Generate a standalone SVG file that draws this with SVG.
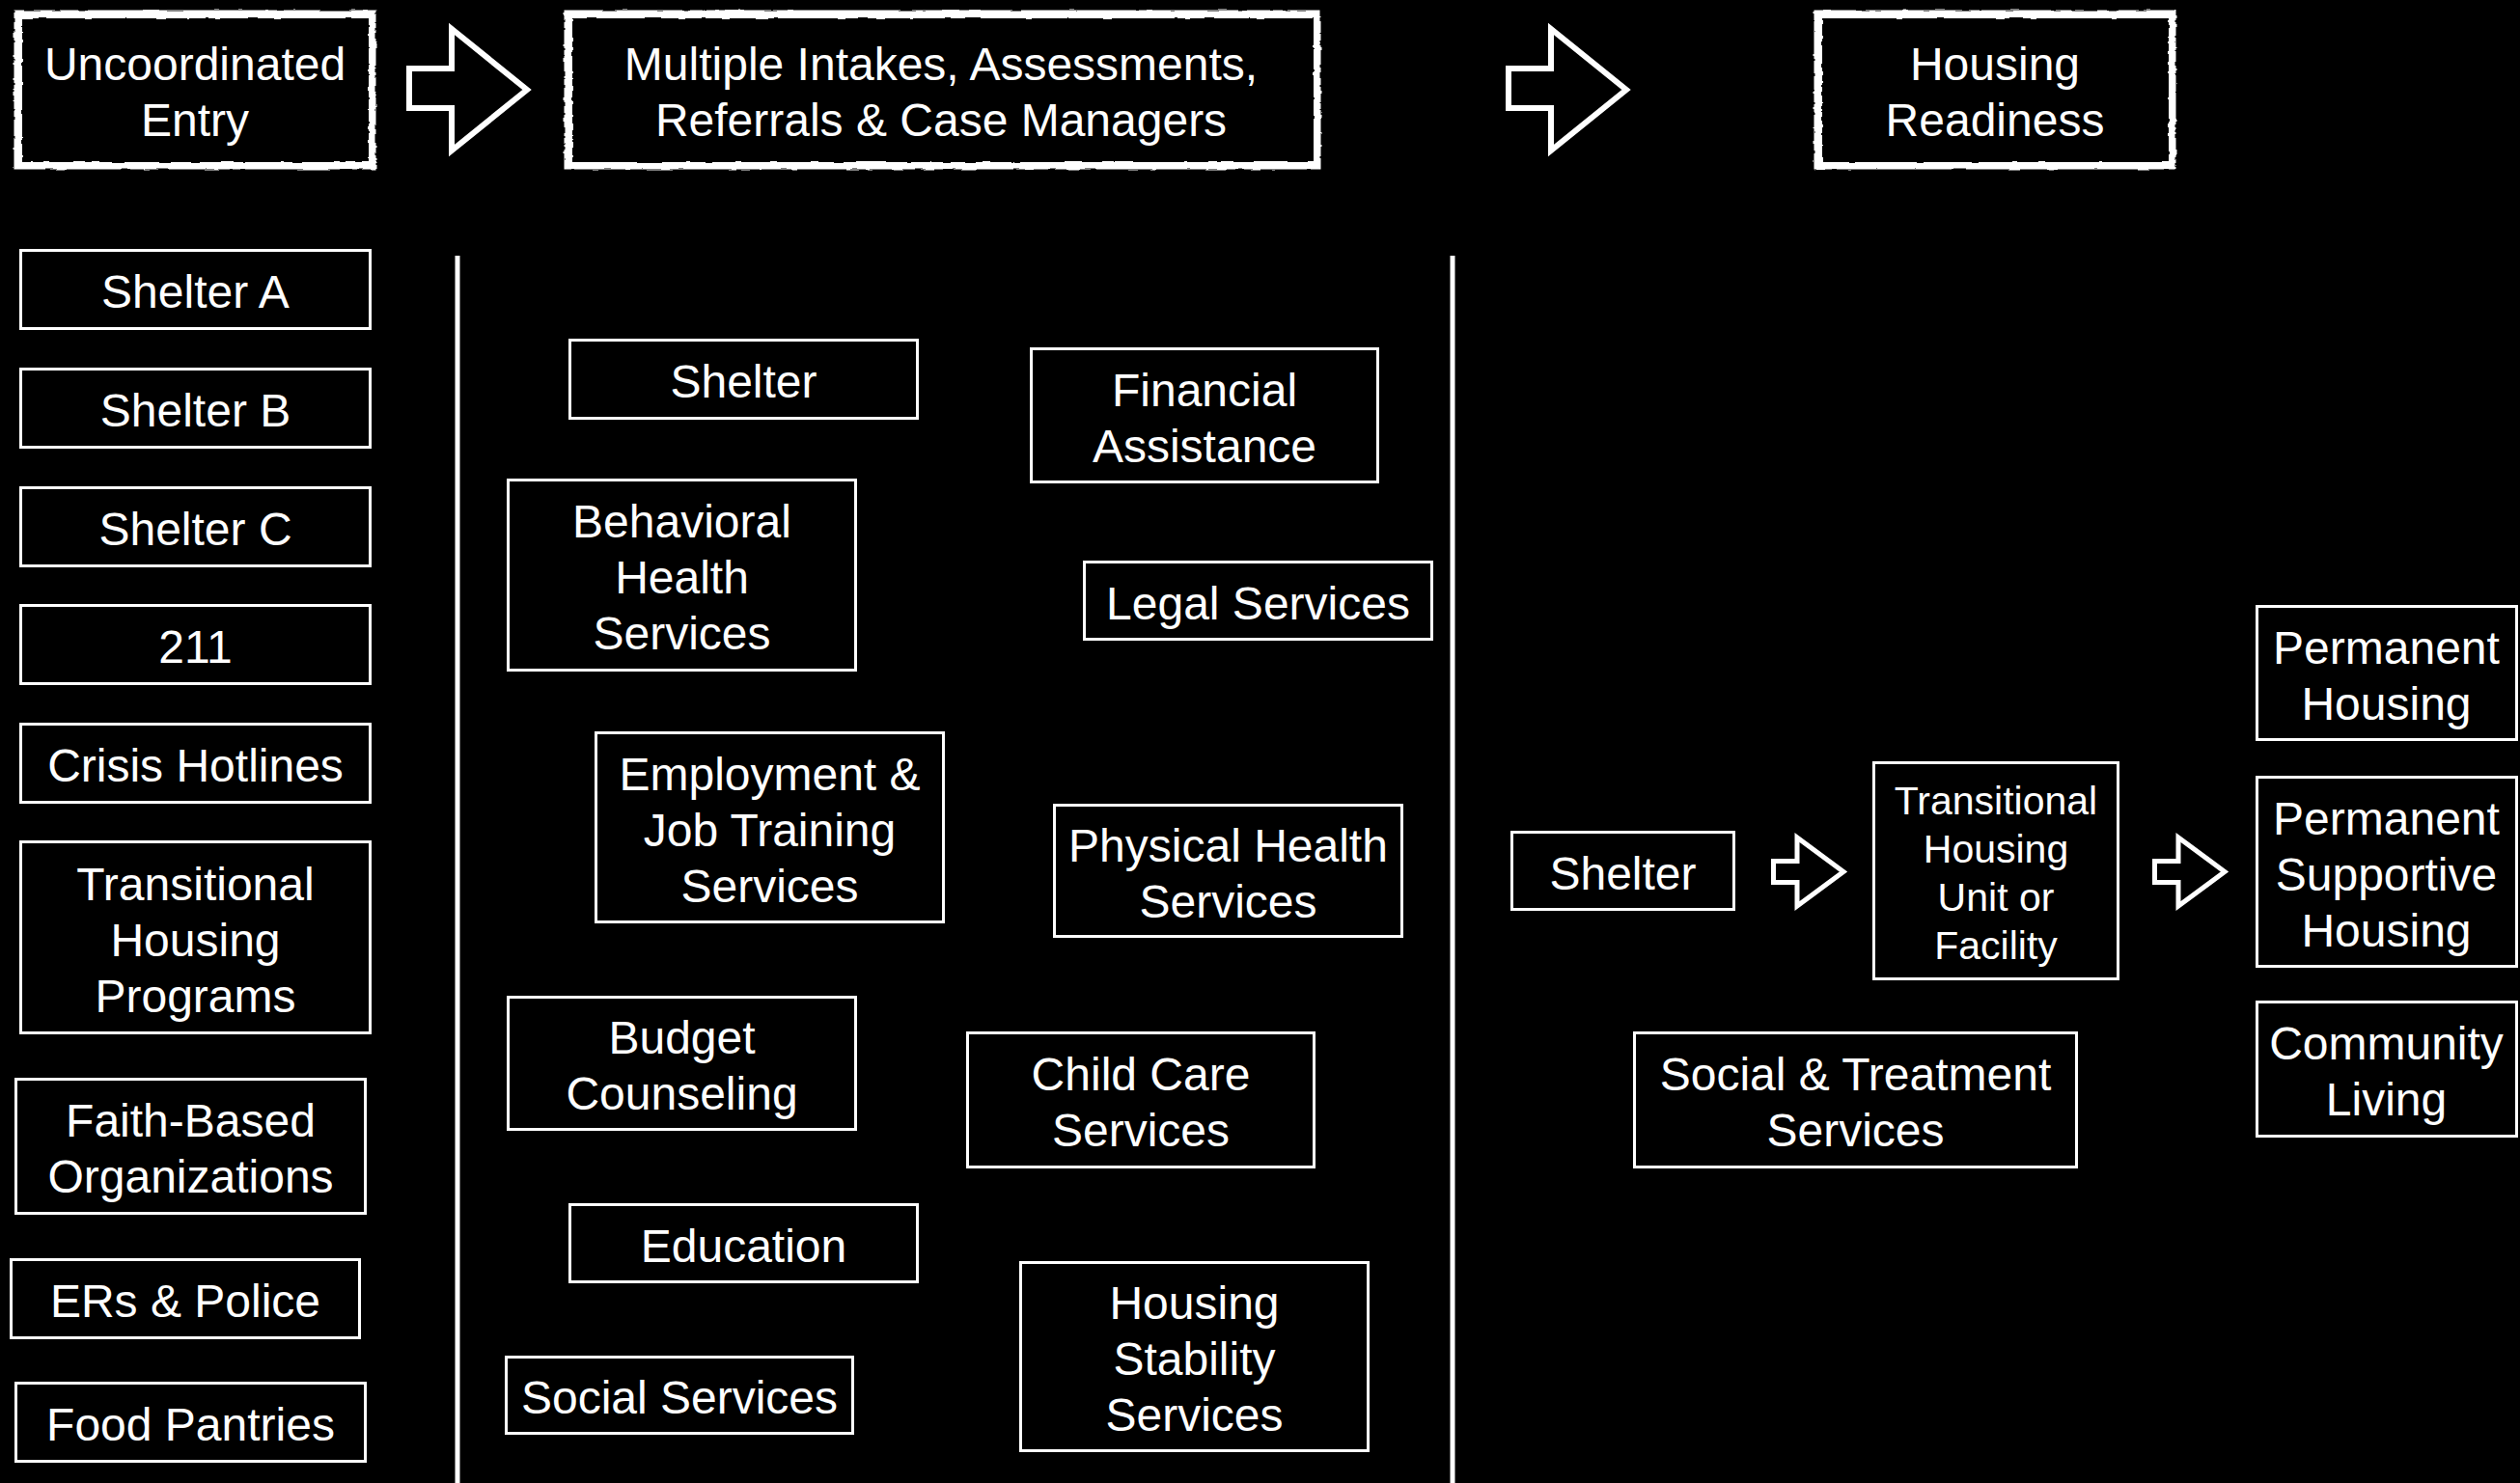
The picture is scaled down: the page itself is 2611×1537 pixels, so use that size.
<svg xmlns="http://www.w3.org/2000/svg" width="2611" height="1537" viewBox="0 0 2611 1537">
<defs>
<style>
.bg{fill:#000}
.box{fill:#000;stroke:#fff;stroke-width:3}
.t{fill:#fff;font-family:"Liberation Sans",Arial,sans-serif;font-size:48px;text-anchor:middle}
.ts{font-size:41px}
.arr{fill:none;stroke:#fff;stroke-width:6;stroke-linejoin:miter}
.arrs{stroke-width:5}
.div{stroke:#fff;stroke-width:5}
.rough{fill:none;stroke:#fff;stroke-width:7}
.rough2{fill:none;stroke:#fff;stroke-width:2}
</style>
<filter id="sketch" x="-5%" y="-15%" width="110%" height="130%">
<feTurbulence type="fractalNoise" baseFrequency="0.05 0.2" numOctaves="2" seed="4" result="n"/>
<feDisplacementMap in="SourceGraphic" in2="n" scale="3.5" xChannelSelector="R" yChannelSelector="G"/>
</filter>
</defs>
<rect class="bg" x="0" y="0" width="2611" height="1537"/>

<g id="headers">
<g id="h-uncoordinated">
<rect class="rough" x="18" y="14" width="368" height="158" filter="url(#sketch)"/>
<rect class="rough2" x="22" y="18" width="361" height="151" filter="url(#sketch)"/>
<text class="t" x="202" y="83">Uncoordinated</text>
<text class="t" x="202" y="141">Entry</text>
</g>
<g id="h-multiple">
<rect class="rough" x="588" y="14" width="777" height="158" filter="url(#sketch)"/>
<rect class="rough2" x="592" y="18" width="770" height="151" filter="url(#sketch)"/>
<text class="t" x="975" y="83">Multiple Intakes, Assessments,</text>
<text class="t" x="975" y="141">Referrals &amp; Case Managers</text>
</g>
<g id="h-readiness">
<rect class="rough" x="1883" y="14" width="368" height="158" filter="url(#sketch)"/>
<rect class="rough2" x="1887" y="18" width="361" height="151" filter="url(#sketch)"/>
<text class="t" x="2067" y="83">Housing</text>
<text class="t" x="2067" y="141">Readiness</text>
</g>
</g>

<g id="connectors">
<path class="arr" d="M424,71 H468 V30 L546,93 L468,156 V112 H424 Z"/>
<path class="arr" d="M1563,71 H1607 V30 L1685,93 L1607,156 V112 H1563 Z"/>
<path class="arr arrs" d="M1837.5,892.5 H1862 V868 L1910,903.5 L1862,939 V914.5 H1837.5 Z"/>
<path class="arr arrs" d="M2232.5,892.5 H2257 V868 L2305,903.5 L2257,939 V914.5 H2232.5 Z"/>
<line class="div" x1="474" y1="265" x2="474" y2="1537"/>
<line class="div" x1="1505" y1="265" x2="1505" y2="1537"/>
</g>

<g id="entry-points">
<g id="shelter-a"><rect class="box" x="21.5" y="259.5" width="362" height="81"/><text class="t" x="202.5" y="318.5">Shelter A</text></g>
<g id="shelter-b"><rect class="box" x="21.5" y="382.5" width="362" height="81"/><text class="t" x="202.5" y="442">Shelter B</text></g>
<g id="shelter-c"><rect class="box" x="21.5" y="505.5" width="362" height="81"/><text class="t" x="202.5" y="564.5">Shelter C</text></g>
<g id="n211"><rect class="box" x="21.5" y="627.5" width="362" height="81"/><text class="t" x="202.5" y="686.5">211</text></g>
<g id="crisis"><rect class="box" x="21.5" y="750.5" width="362" height="81"/><text class="t" x="202.5" y="810">Crisis Hotlines</text></g>
<g id="thp"><rect class="box" x="21.5" y="872.5" width="362" height="198"/><text class="t" x="202.5" y="932.5">Transitional</text><text class="t" x="202.5" y="990.5">Housing</text><text class="t" x="202.5" y="1048.5">Programs</text></g>
<g id="faith"><rect class="box" x="16.5" y="1118.5" width="362" height="139"/><text class="t" x="197.5" y="1178">Faith-Based</text><text class="t" x="197.5" y="1236">Organizations</text></g>
<g id="ers"><rect class="box" x="11.5" y="1305.5" width="361" height="81"/><text class="t" x="192" y="1364.5">ERs &amp; Police</text></g>
<g id="food"><rect class="box" x="16.5" y="1433.5" width="362" height="81"/><text class="t" x="197.5" y="1492.5">Food Pantries</text></g>
</g>

<g id="services">
<g id="svc-shelter"><rect class="box" x="590.5" y="352.5" width="360" height="81"/><text class="t" x="770.5" y="412">Shelter</text></g>
<g id="svc-financial"><rect class="box" x="1068.5" y="361.5" width="359" height="138"/><text class="t" x="1248" y="420.5">Financial</text><text class="t" x="1248" y="478.5">Assistance</text></g>
<g id="svc-behavioral"><rect class="box" x="526.5" y="497.5" width="360" height="197"/><text class="t" x="706.5" y="557">Behavioral</text><text class="t" x="706.5" y="615">Health</text><text class="t" x="706.5" y="673">Services</text></g>
<g id="svc-legal"><rect class="box" x="1123.5" y="582.5" width="360" height="80"/><text class="t" x="1303.5" y="641.5">Legal Services</text></g>
<g id="svc-employment"><rect class="box" x="617.5" y="759.5" width="360" height="196"/><text class="t" x="797.5" y="818.5">Employment &amp;</text><text class="t" x="797.5" y="876.5">Job Training</text><text class="t" x="797.5" y="934.5">Services</text></g>
<g id="svc-physical"><rect class="box" x="1092.5" y="834.5" width="360" height="136"/><text class="t" x="1272.5" y="892.5">Physical Health</text><text class="t" x="1272.5" y="950.5">Services</text></g>
<g id="svc-budget"><rect class="box" x="526.5" y="1033.5" width="360" height="137"/><text class="t" x="706.5" y="1092">Budget</text><text class="t" x="706.5" y="1150">Counseling</text></g>
<g id="svc-childcare"><rect class="box" x="1002.5" y="1070.5" width="359" height="139"/><text class="t" x="1182" y="1130">Child Care</text><text class="t" x="1182" y="1188">Services</text></g>
<g id="svc-education"><rect class="box" x="590.5" y="1248.5" width="360" height="80"/><text class="t" x="770.5" y="1307.5">Education</text></g>
<g id="svc-housing-stability"><rect class="box" x="1057.5" y="1308.5" width="360" height="195"/><text class="t" x="1237.5" y="1367">Housing</text><text class="t" x="1237.5" y="1425">Stability</text><text class="t" x="1237.5" y="1483">Services</text></g>
<g id="svc-social"><rect class="box" x="524.5" y="1406.5" width="359" height="79"/><text class="t" x="704" y="1465">Social Services</text></g>
</g>

<g id="readiness">
<g id="r-shelter"><rect class="box" x="1566.5" y="862.5" width="230" height="80"/><text class="t" x="1681.5" y="921.5">Shelter</text></g>
<g id="r-transitional"><rect class="box" x="1941.5" y="790.5" width="253" height="224"/><text class="t ts" x="2068" y="844">Transitional</text><text class="t ts" x="2068" y="894">Housing</text><text class="t ts" x="2068" y="944">Unit or</text><text class="t ts" x="2068" y="994">Facility</text></g>
<g id="r-social"><rect class="box" x="1693.5" y="1070.5" width="458" height="139"/><text class="t" x="1922.5" y="1130">Social &amp; Treatment</text><text class="t" x="1922.5" y="1188">Services</text></g>
<g id="r-permanent"><rect class="box" x="2338.5" y="628.5" width="269" height="138"/><text class="t" x="2472.5" y="687.5">Permanent</text><text class="t" x="2472.5" y="745.5">Housing</text></g>
<g id="r-psh"><rect class="box" x="2338.5" y="805.5" width="269" height="196"/><text class="t" x="2472.5" y="864.5">Permanent</text><text class="t" x="2472.5" y="922.5">Supportive</text><text class="t" x="2472.5" y="980.5">Housing</text></g>
<g id="r-community"><rect class="box" x="2338.5" y="1038.5" width="269" height="139"/><text class="t" x="2472.5" y="1098">Community</text><text class="t" x="2472.5" y="1156">Living</text></g>
</g>
</svg>
